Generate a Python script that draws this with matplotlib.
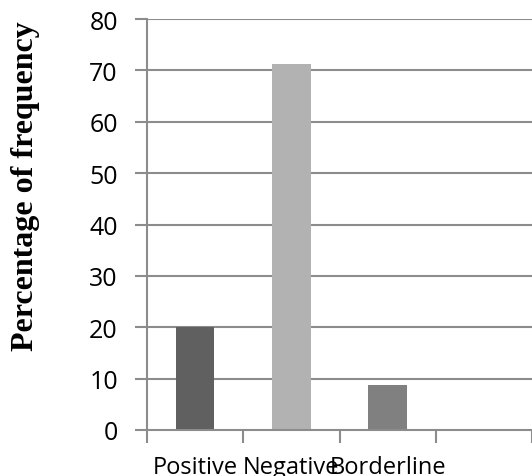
import matplotlib
matplotlib.use("Agg")
import matplotlib.pyplot as plt
import numpy as np

categories = ["Positive", "Negative", "Borderline"]
values = [20.0, 71.2, 8.8]
bar_colors = ["#606060", "#b2b2b2", "#808080"]
y_ticks = [0, 10, 20, 30, 40, 50, 60, 70, 80]
n_slots = 4  # Excel-like axis with an empty fourth slot

fig = plt.figure(figsize=(5.32, 4.77), dpi=100)
ax = fig.add_axes([147/532, 1-431/477, 1-147/532, (431-20)/477])

x = np.arange(len(categories))
ax.bar(x, values, width=0.4, color=bar_colors, zorder=3)

grid_c = "#8c8c8c"
ax.set_ylim(0, 80)
ax.set_xlim(-0.5, n_slots - 0.5)
for yv in y_ticks[1:]:
    ax.axhline(yv, color=grid_c, lw=1.5, zorder=1)

ax.set_yticks(y_ticks)
ax.set_yticklabels([str(v) for v in y_ticks], fontsize=18, family="Open Sans")
ax.tick_params(axis="y", length=9, width=1.5, color=grid_c, pad=12)

ax.set_xticks(x)
ax.set_xticklabels(categories, fontsize=17, family="Open Sans")
ax.tick_params(axis="x", which="major", length=0, pad=18)
ax.set_xticks(np.arange(-0.5, n_slots, 1.0), minor=True)
ax.tick_params(axis="x", which="minor", length=9, width=1.5, color=grid_c)

for s in ["top", "right"]:
    ax.spines[s].set_visible(False)
for s in ["left", "bottom"]:
    ax.spines[s].set_color(grid_c)
    ax.spines[s].set_linewidth(1.5)
    ax.spines[s].set_zorder(4)

fig.text(0.048, 1-186/477, "Percentage of frequency", rotation=90, ha="center",
         va="center", fontsize=23, fontweight="bold", family="Liberation Serif")

fig.savefig("out.png", dpi=100)
